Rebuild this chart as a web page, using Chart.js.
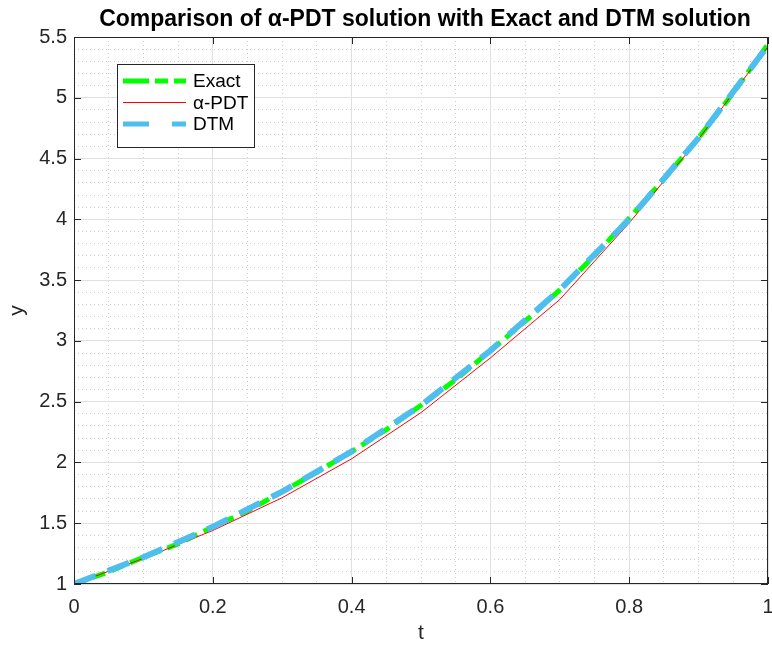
<!DOCTYPE html>
<html>
<head>
<meta charset="utf-8">
<script src="https://cdn.jsdelivr.net/npm/chart.js@4.4.1/dist/chart.umd.min.js"></script>
<style>
    html, body { margin: 0; padding: 0; background: #ffffff; }
    #wrap { width: 772px; height: 646px; }
</style>
</head>
<body>
<div id="wrap"><canvas id="solutionChart"></canvas></div>
<script>

/* =========================
   DATA
========================= */

const tExact = [0, 0.05, 0.1, 0.15, 0.2, 0.25, 0.3, 0.35, 0.4, 0.45, 0.5,
                0.55, 0.6, 0.65, 0.7, 0.75, 0.8, 0.85, 0.9, 0.95, 1];
const yExact = [1.00, 1.10, 1.22, 1.33, 1.47, 1.60, 1.76, 1.92, 2.09, 2.27, 2.47,
                2.68, 2.92, 3.16, 3.42, 3.70, 4.01, 4.33, 4.67, 5.04, 5.44];

const tPDT = [0, 0.1, 0.2, 0.3, 0.4, 0.5, 0.6, 0.7, 0.8, 0.9, 1];
const yPDT = [1.00, 1.21, 1.44, 1.71, 2.03, 2.41, 2.86, 3.34, 3.97, 4.66, 5.42];

const tDTM = [0, 0.1, 0.2, 0.3, 0.4, 0.5, 0.6, 0.7, 0.8, 0.9, 1];
const yDTM = [1.00, 1.22, 1.47, 1.76, 2.09, 2.47, 2.92, 3.42, 4.00, 4.67, 5.43];

const xTicks = [0, 0.2, 0.4, 0.6, 0.8, 1];
const yTicks = [1, 1.5, 2, 2.5, 3, 3.5, 4, 4.5, 5, 5.5];

const chartTitle = "Comparison of \u03b1-PDT solution with Exact and DTM solution";

const FONT = "'Liberation Sans', Arial, sans-serif";
const AXIS_COLOR = "#262626";

function toPoints(xs, ys) {
    return xs.map((x, i) => ({ x: x, y: ys[i] }));
}

/* =========================
   BOX, INNER TICKS, TITLE, LEGEND
========================= */

const figurePlugin = {

    id: "figurePlugin",

    afterDraw(chart) {

        const ctx = chart.ctx;
        const area = chart.chartArea;
        const xs = chart.scales.x;
        const ys = chart.scales.y;
        const tick = 7;

        ctx.save();

        // axes box
        ctx.strokeStyle = AXIS_COLOR;
        ctx.lineWidth = 1;
        ctx.strokeRect(area.left + 0.5, area.top + 0.5,
            area.right - area.left - 1, area.bottom - area.top - 1);

        // inward ticks
        ctx.beginPath();
        xTicks.forEach(v => {
            const px = Math.round(xs.getPixelForValue(v)) + 0.5;
            ctx.moveTo(px, area.bottom);
            ctx.lineTo(px, area.bottom - tick);
            ctx.moveTo(px, area.top);
            ctx.lineTo(px, area.top + tick);
        });
        yTicks.forEach(v => {
            const py = Math.round(ys.getPixelForValue(v)) + 0.5;
            ctx.moveTo(area.left, py);
            ctx.lineTo(area.left + tick, py);
            ctx.moveTo(area.right, py);
            ctx.lineTo(area.right - tick, py);
        });
        ctx.stroke();

        // title
        ctx.fillStyle = "#000000";
        ctx.font = "bold 23px " + FONT;
        ctx.textAlign = "center";
        ctx.textBaseline = "middle";
        ctx.fillText(chartTitle, 425, 20);

        // legend
        const bx = 117, by = 64, bw = 137, bh = 83;
        ctx.fillStyle = "#ffffff";
        ctx.fillRect(bx, by, bw, bh);
        ctx.strokeStyle = AXIS_COLOR;
        ctx.lineWidth = 1;
        ctx.strokeRect(bx + 0.5, by + 0.5, bw, bh);

        ctx.font = "19px " + FONT;
        ctx.textAlign = "left";
        chart.data.datasets.forEach((ds, i) => {
            const ly = by + 17 + i * 21.5;
            ctx.save();
            ctx.strokeStyle = ds.borderColor;
            ctx.lineWidth = Math.min(ds.borderWidth, 5);
            ctx.setLineDash(ds.legendDash || []);
            ctx.beginPath();
            ctx.moveTo(bx + 6, ly);
            ctx.lineTo(bx + 69, ly);
            ctx.stroke();
            ctx.restore();
            ctx.fillStyle = "#000000";
            ctx.fillText(ds.label, bx + 76, ly + 1);
        });

        ctx.restore();

    }

};

/* =========================
   CHART
========================= */

const ctx = document.getElementById("solutionChart");

const solutionChart = new Chart(ctx, {

    type: "line",

    data: {

        datasets: [

            {
                label: "Exact",
                data: toPoints(tExact, yExact),
                borderColor: "#00ff00",
                borderWidth: 5,
                borderDash: [13, 7],
                legendDash: [26, 6, 13, 6],
                pointRadius: 0,
                tension: 0,
                order: 3
            },

            {
                label: "\u03b1-PDT",
                data: toPoints(tPDT, yPDT),
                borderColor: "#ff0000",
                borderWidth: 1,
                pointRadius: 0,
                tension: 0,
                order: 2
            },

            {
                label: "DTM",
                data: toPoints(tDTM, yDTM),
                borderColor: "#4dbeee",
                borderWidth: 6,
                borderDash: [23, 13],
                legendDash: [26, 23],
                pointRadius: 0,
                tension: 0,
                order: 1
            }

        ]

    },

    options: {

        responsive: true,
        maintainAspectRatio: false,
        animation: false,
        events: [],

        layout: {
            padding: { top: 37, left: 0, right: 4, bottom: 0 }
        },

        plugins: {
            legend: { display: false },
            title: { display: false },
            tooltip: { enabled: false }
        },

        scales: {

            xMinor: {
                type: "linear",
                position: "bottom",
                min: 0,
                max: 1,
                ticks: { display: false, stepSize: 0.05 },
                grid: {
                    color: "#cfcfcf",
                    lineWidth: 1,
                    drawTicks: false
                },
                border: { display: false, dash: [1, 3] },
                afterFit(scale) { scale.height = 0; }
            },

            yMinor: {
                type: "linear",
                position: "left",
                min: 1,
                max: 5.5,
                ticks: { display: false, stepSize: 0.1 },
                grid: {
                    color: "#cfcfcf",
                    lineWidth: 1,
                    drawTicks: false
                },
                border: { display: false, dash: [1, 3] },
                afterFit(scale) { scale.width = 0; }
            },

            x: {
                type: "linear",
                position: "bottom",
                min: 0,
                max: 1,
                afterBuildTicks(scale) {
                    scale.ticks = xTicks.map(v => ({ value: v }));
                },
                ticks: {
                    color: AXIS_COLOR,
                    font: { family: FONT, size: 20 },
                    padding: 11,
                    maxRotation: 0,
                    callback: v => String(v)
                },
                grid: {
                    color: "#e0e0e0",
                    drawTicks: false
                },
                border: { display: false },
                title: {
                    display: true,
                    text: "t",
                    color: AXIS_COLOR,
                    font: { family: FONT, size: 21 },
                    padding: 0
                },
                afterFit(scale) {
                    scale.height = 62;
                    scale.paddingLeft = 0;
                    scale.paddingRight = 0;
                }
            },

            y: {
                type: "linear",
                position: "left",
                min: 1,
                max: 5.5,
                afterBuildTicks(scale) {
                    scale.ticks = yTicks.map(v => ({ value: v }));
                },
                ticks: {
                    color: AXIS_COLOR,
                    font: { family: FONT, size: 20 },
                    padding: 7,
                    callback: v => String(v)
                },
                grid: {
                    color: "#e0e0e0",
                    drawTicks: false
                },
                border: { display: false },
                title: {
                    display: true,
                    text: "y",
                    color: AXIS_COLOR,
                    font: { family: FONT, size: 21 },
                    padding: 5
                },
                afterFit(scale) {
                    scale.width = 74;
                    scale.paddingTop = 0;
                    scale.paddingBottom = 0;
                }
            }

        }

    },

    plugins: [figurePlugin]

});

</script>
</body>
</html>
